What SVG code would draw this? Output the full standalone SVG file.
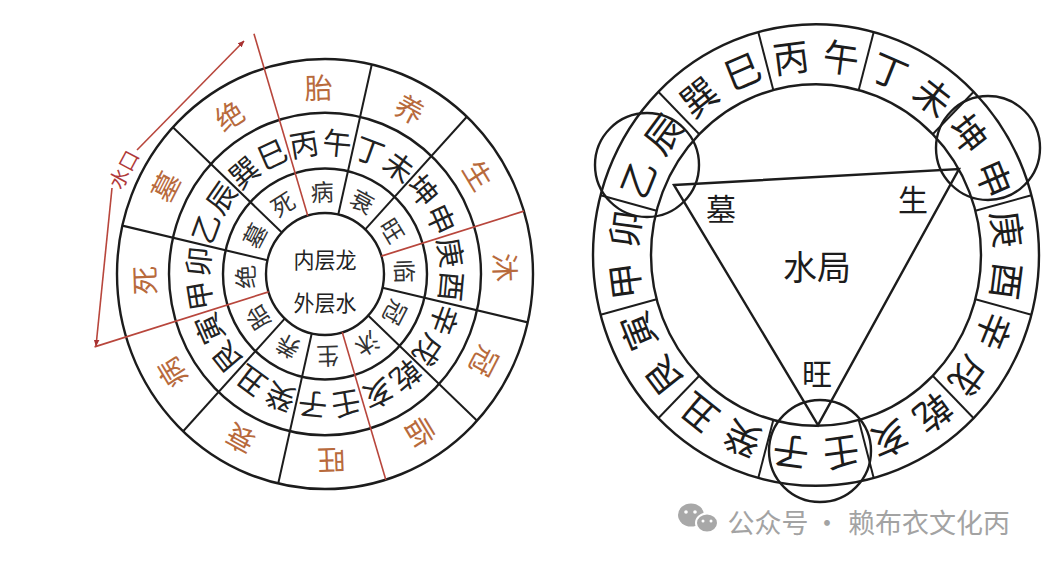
<svg xmlns="http://www.w3.org/2000/svg" width="1050" height="561" viewBox="0 0 1050 561">
<defs>
<style>
.ring{fill:none;stroke:#1c1c1c;stroke-width:2.4}
.rad{stroke:#1c1c1c;stroke-width:2}
.red{stroke:#b8463c;stroke-width:1.6;fill:none}
text{font-family:"Noto Sans CJK SC","Noto Sans CJK JP",sans-serif;text-anchor:middle;dominant-baseline:central}
.o{font-size:28px;fill:#b86a3c}
.m{font-size:29px;fill:#222}
.i{font-size:23px;fill:#333}
.c{font-size:21px;fill:#222}
.r24{font-size:36px;fill:#1c1c1c}
.lab{font-size:30px;fill:#1c1c1c}
.wm{font-size:27px;fill:#a3a3a3}
</style>
<marker id="ah" viewBox="0 0 10 10" refX="9" refY="5" markerWidth="7" markerHeight="7" orient="auto" markerUnits="userSpaceOnUse">
<path d="M0,1 L10,5 L0,9 z" fill="#a83232"/>
</marker>
</defs>
<rect width="1050" height="561" fill="#ffffff"/>

<g id="left-wheel" transform="translate(325,274) scale(1,1.034)">
  <g id="left-rings">
    <circle class="ring" r="59"/>
    <circle class="ring" r="102"/>
    <circle class="ring" r="156"/>
    <circle class="ring" r="208"/>
  </g>
  <g id="left-dividers">
    <line class="rad" y1="-59" y2="-208" transform="rotate(13)"/>
    <line class="rad" y1="-59" y2="-208" transform="rotate(43)"/>
    <line class="rad" y1="-59" y2="-208" transform="rotate(103)"/>
    <line class="rad" y1="-59" y2="-208" transform="rotate(133)"/>
    <line class="rad" y1="-59" y2="-208" transform="rotate(193)"/>
    <line class="rad" y1="-59" y2="-208" transform="rotate(223)"/>
    <line class="rad" y1="-59" y2="-208" transform="rotate(283)"/>
    <line class="rad" y1="-59" y2="-208" transform="rotate(313)"/>
    <line class="red" y1="-59" y2="-243" transform="rotate(-17)"/>
    <line class="red" y1="-59" y2="-208" transform="rotate(73)"/>
    <line class="red" y1="-59" y2="-208" transform="rotate(163)"/>
    <line class="red" y1="-59" y2="-241" transform="rotate(253)"/>
  </g>
  <g id="left-outer-stages">
    <text class="o" transform="rotate(-2) translate(0,-182)">胎</text>
    <text class="o" transform="rotate(28) translate(0,-182)">养</text>
    <text class="o" transform="rotate(58) translate(0,-182)">生</text>
    <text class="o" transform="rotate(88) translate(0,-182)">沐</text>
    <text class="o" transform="rotate(118) translate(0,-182)">冠</text>
    <text class="o" transform="rotate(148) translate(0,-182)">临</text>
    <text class="o" transform="rotate(178) translate(0,-182)">旺</text>
    <text class="o" transform="rotate(208) translate(0,-182)">衰</text>
    <text class="o" transform="rotate(238) translate(0,-182)">病</text>
    <text class="o" transform="rotate(268) translate(0,-182)">死</text>
    <text class="o" transform="rotate(298) translate(0,-182)">墓</text>
    <text class="o" transform="rotate(328) translate(0,-182)">绝</text>
  </g>
  <g id="left-mountains">
    <text class="m" transform="rotate(-9.5) translate(0,-129)">丙</text>
    <text class="m" transform="rotate(5.5) translate(0,-129)">午</text>
    <text class="m" transform="rotate(20.5) translate(0,-129)">丁</text>
    <text class="m" transform="rotate(35.5) translate(0,-129)">未</text>
    <text class="m" transform="rotate(50.5) translate(0,-129)">坤</text>
    <text class="m" transform="rotate(65.5) translate(0,-129)">申</text>
    <text class="m" transform="rotate(80.5) translate(0,-129)">庚</text>
    <text class="m" transform="rotate(95.5) translate(0,-129)">酉</text>
    <text class="m" transform="rotate(110.5) translate(0,-129)">辛</text>
    <text class="m" transform="rotate(125.5) translate(0,-129)">戌</text>
    <text class="m" transform="rotate(140.5) translate(0,-129)">乾</text>
    <text class="m" transform="rotate(155.5) translate(0,-129)">亥</text>
    <text class="m" transform="rotate(170.5) translate(0,-129)">壬</text>
    <text class="m" transform="rotate(185.5) translate(0,-129)">子</text>
    <text class="m" transform="rotate(200.5) translate(0,-129)">癸</text>
    <text class="m" transform="rotate(215.5) translate(0,-129)">丑</text>
    <text class="m" transform="rotate(230.5) translate(0,-129)">艮</text>
    <text class="m" transform="rotate(245.5) translate(0,-129)">寅</text>
    <text class="m" transform="rotate(260.5) translate(0,-129)">甲</text>
    <text class="m" transform="rotate(275.5) translate(0,-129)">卯</text>
    <text class="m" transform="rotate(290.5) translate(0,-129)">乙</text>
    <text class="m" transform="rotate(305.5) translate(0,-129)">辰</text>
    <text class="m" transform="rotate(320.5) translate(0,-129)">巽</text>
    <text class="m" transform="rotate(335.5) translate(0,-129)">巳</text>
  </g>
  <g id="left-inner-stages">
    <text class="i" transform="rotate(-2) translate(0,-80.5)">病</text>
    <text class="i" transform="rotate(28) translate(0,-80.5)">衰</text>
    <text class="i" transform="rotate(58) translate(0,-80.5)">旺</text>
    <text class="i" transform="rotate(88) translate(0,-80.5)">临</text>
    <text class="i" transform="rotate(118) translate(0,-80.5)">冠</text>
    <text class="i" transform="rotate(148) translate(0,-80.5)">沐</text>
    <text class="i" transform="rotate(178) translate(0,-80.5)">生</text>
    <text class="i" transform="rotate(208) translate(0,-80.5)">养</text>
    <text class="i" transform="rotate(238) translate(0,-80.5)">胎</text>
    <text class="i" transform="rotate(268) translate(0,-80.5)">绝</text>
    <text class="i" transform="rotate(298) translate(0,-80.5)">墓</text>
    <text class="i" transform="rotate(328) translate(0,-80.5)">死</text>
  </g>
  <g id="left-center">
    <text class="c" x="0" y="-15">内层龙</text>
    <text class="c" x="0" y="26">外层水</text>
  </g>
</g>

<g id="water-outlet">
  <path class="red" d="M137,150 L244,41" stroke="#a83232" marker-end="url(#ah)"/>
  <path class="red" d="M112,188 L96,346" stroke="#a83232" marker-end="url(#ah)"/>
  <text transform="translate(123,169) rotate(-62)" style="font-size:20px;fill:#b03a3a">水口</text>
</g>

<g id="right-wheel">
  <g transform="translate(816,255) scale(1,1.035)">
    <circle class="ring" r="165"/>
    <circle class="ring" r="223"/>
    <g id="right-dividers">
      <line class="rad" y1="-165" y2="-223" transform="rotate(15)"/>
      <line class="rad" y1="-165" y2="-223" transform="rotate(45)"/>
      <line class="rad" y1="-165" y2="-223" transform="rotate(75)"/>
      <line class="rad" y1="-165" y2="-223" transform="rotate(105)"/>
      <line class="rad" y1="-165" y2="-223" transform="rotate(135)"/>
      <line class="rad" y1="-165" y2="-223" transform="rotate(165)"/>
      <line class="rad" y1="-165" y2="-223" transform="rotate(195)"/>
      <line class="rad" y1="-165" y2="-223" transform="rotate(225)"/>
      <line class="rad" y1="-165" y2="-223" transform="rotate(255)"/>
      <line class="rad" y1="-165" y2="-223" transform="rotate(285)"/>
      <line class="rad" y1="-165" y2="-223" transform="rotate(315)"/>
      <line class="rad" y1="-165" y2="-223" transform="rotate(345)"/>
    </g>
    <g id="right-mountains">
      <text class="r24" transform="rotate(-7.5) translate(0,-194)">丙</text>
      <text class="r24" transform="rotate(7.5) translate(0,-194)">午</text>
      <text class="r24" transform="rotate(22.5) translate(0,-194)">丁</text>
      <text class="r24" transform="rotate(37.5) translate(0,-194)">未</text>
      <text class="r24" transform="rotate(52.5) translate(0,-194)">坤</text>
      <text class="r24" transform="rotate(67.5) translate(0,-194)">申</text>
      <text class="r24" transform="rotate(82.5) translate(0,-194)">庚</text>
      <text class="r24" transform="rotate(97.5) translate(0,-194)">酉</text>
      <text class="r24" transform="rotate(112.5) translate(0,-194)">辛</text>
      <text class="r24" transform="rotate(127.5) translate(0,-194)">戌</text>
      <text class="r24" transform="rotate(142.5) translate(0,-194)">乾</text>
      <text class="r24" transform="rotate(157.5) translate(0,-194)">亥</text>
      <text class="r24" transform="rotate(172.5) translate(0,-194)">壬</text>
      <text class="r24" transform="rotate(187.5) translate(0,-194)">子</text>
      <text class="r24" transform="rotate(202.5) translate(0,-194)">癸</text>
      <text class="r24" transform="rotate(217.5) translate(0,-194)">丑</text>
      <text class="r24" transform="rotate(232.5) translate(0,-194)">艮</text>
      <text class="r24" transform="rotate(247.5) translate(0,-194)">寅</text>
      <text class="r24" transform="rotate(262.5) translate(0,-194)">甲</text>
      <text class="r24" transform="rotate(277.5) translate(0,-194)">卯</text>
      <text class="r24" transform="rotate(292.5) translate(0,-194)">乙</text>
      <text class="r24" transform="rotate(307.5) translate(0,-194)">辰</text>
      <text class="r24" transform="rotate(322.5) translate(0,-194)">巽</text>
      <text class="r24" transform="rotate(337.5) translate(0,-194)">巳</text>
    </g>
  </g>
  <g id="highlight-circles">
    <circle class="ring" cx="647" cy="165" r="52"/>
    <circle class="ring" cx="988" cy="148" r="52"/>
    <circle class="ring" cx="820" cy="451" r="51"/>
  </g>
  <g id="triangle">
    <path d="M674,185 L959,169 L818,425 Z" fill="none" stroke="#1c1c1c" stroke-width="2.4" stroke-linejoin="miter"/>
  </g>
  <g id="triangle-labels">
    <text class="lab" x="721" y="207">墓</text>
    <text class="lab" x="913" y="198">生</text>
    <text class="lab" x="817" y="372">旺</text>
    <text class="lab" x="817" y="265" style="font-size:34px">水局</text>
  </g>
</g>

<g id="watermark">
  <ellipse cx="691" cy="515" rx="13" ry="11.5" fill="#a8a8a8"/>
  <ellipse cx="707" cy="523" rx="11" ry="9.5" fill="#a8a8a8" stroke="#ffffff" stroke-width="2"/>
  <circle cx="686" cy="512" r="1.8" fill="#ffffff"/>
  <circle cx="695" cy="512" r="1.8" fill="#ffffff"/>
  <circle cx="703" cy="521" r="1.5" fill="#ffffff"/>
  <circle cx="711" cy="521" r="1.5" fill="#ffffff"/>
  <text class="wm" x="768" y="521">公众号</text>
  <text class="wm" x="827" y="521">·</text>
  <text class="wm" x="929" y="521">赖布衣文化丙</text>
</g>
</svg>
